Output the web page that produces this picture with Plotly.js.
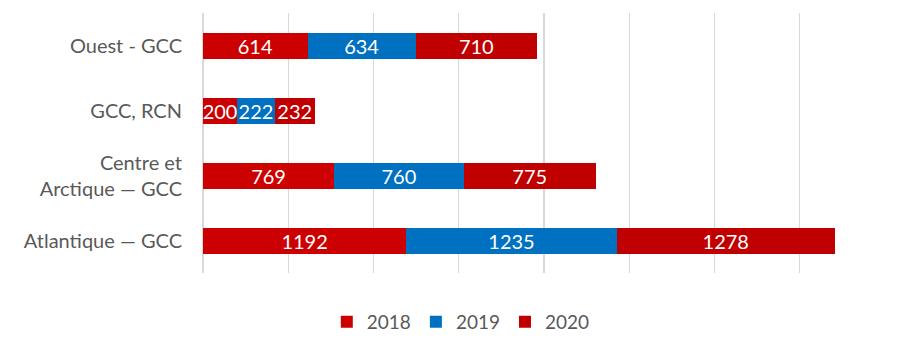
<!DOCTYPE html>
<html><head><meta charset="utf-8">
<script src="https://cdn.plot.ly/plotly-3.0.1.min.js"></script>
<style>body{margin:0;background:#fff}#chart{width:900px;height:355px}</style>
</head><body><div id="chart"></div>
<script>
const categories = ["Ouest - GCC", "GCC, RCN", "Centre et<br>Arctique — GCC", "Atlantique — GCC"];
const values2018 = [614, 200, 769, 1192];
const values2019 = [634, 222, 760, 1235];
const values2020 = [710, 232, 775, 1278];
const seriesNames = ["2018", "2019", "2020"];
const colors = ["#CC0000", "#0070C0", "#C00000"];
const allValues = [values2018, values2019, values2020];

const traces = allValues.map((v, i) => ({
  type: 'bar', orientation: 'h', name: seriesNames[i],
  x: v, y: categories,
  marker: {color: colors[i]},
  text: v.map(String), textposition: 'inside', insidetextanchor: 'middle',
  constraintext: 'none',
  textfont: {color: '#ffffff', size: 20, family: 'Lato, sans-serif'},
  hoverinfo: 'x+name'
}));

const layout = {
  width: 900, height: 355,
  margin: {l: 203, r: 15, t: 13, b: 82},
  barmode: 'stack', bargap: 0.6,
  paper_bgcolor: '#fff', plot_bgcolor: '#fff',
  font: {family: 'Lato, sans-serif', color: '#595959', size: 20},
  xaxis: {range: [0, 4000], dtick: 500, showgrid: true, gridcolor: '#D9D9D9', gridwidth: 1.3,
          zeroline: true, zerolinecolor: '#D9D9D9', zerolinewidth: 1.3, showticklabels: false, fixedrange: true},
  yaxis: {autorange: 'reversed', showgrid: false, zeroline: false, ticks: '', ticklabelstandoff: 20,
          tickfont: {size: 20, color: '#595959'}, fixedrange: true},
  legend: {orientation: 'h', xref: 'container', yref: 'container', x: 0.512, xanchor: 'center', y: 0.04, yanchor: 'bottom',
           font: {size: 19, color: '#595959'}, traceorder: 'normal', itemwidth: 30},
  showlegend: true
};
Plotly.newPlot('chart', traces, layout, {displayModeBar: false, staticPlot: true});
</script></body></html>
